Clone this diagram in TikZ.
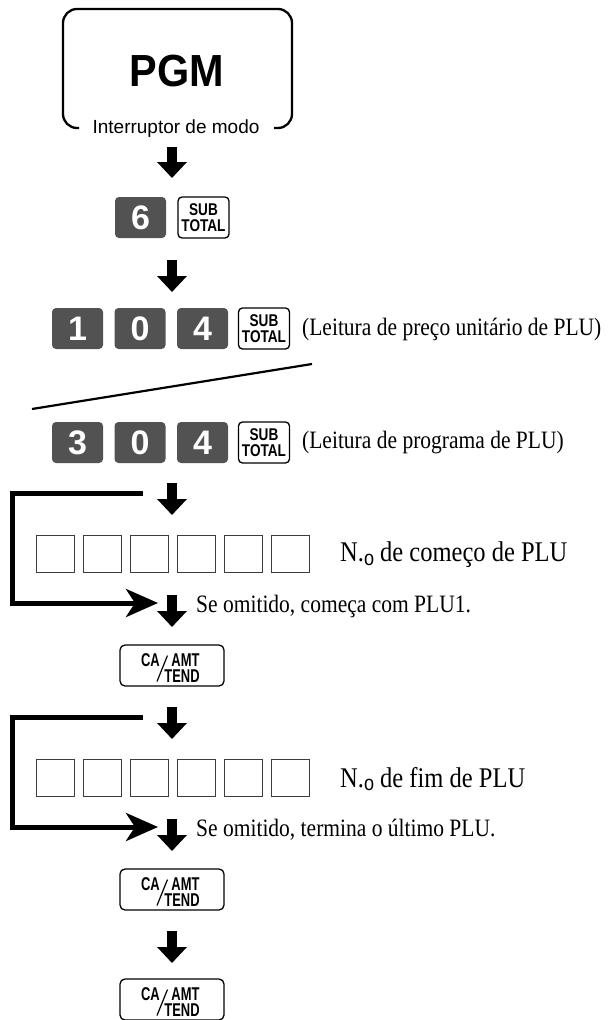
\documentclass[tikz,border=0pt]{standalone}
\usepackage{fontspec}
\setmainfont{Liberation Serif}
\setsansfont{Liberation Sans}
\usepackage{graphicx}
\usetikzlibrary{arrows.meta, calc}
\definecolor{keygray}{RGB}{82,82,82}
\definecolor{boxgray}{RGB}{60,60,60}
\newcommand{\narrowtext}[1]{\scalebox{0.8}[1]{#1}}
\newcommand{\slimtext}[1]{\scalebox{0.7}[1]{#1}}
\newcommand{\notetext}[1]{\scalebox{0.86}[1]{#1}}
\newcommand{\numo}{N.\raisebox{-3.5pt}{\sffamily\fontsize{21}{21}\selectfont o}}

\tikzset{
  numkey/.style={rectangle, rounded corners=4pt, fill=keygray, text=white, minimum width=51pt, minimum height=41pt, inner sep=0pt, font=\sffamily\bfseries\fontsize{34}{34}\selectfont},
  funckey/.style={rectangle, rounded corners=4pt, draw, line width=1.3pt, minimum width=51pt, minimum height=41pt, inner sep=0pt, align=center, font=\sffamily\bfseries\fontsize{17}{16.5}\selectfont},
  cakeybox/.style={rectangle, rounded corners=5pt, draw, line width=1.3pt, minimum width=104pt, minimum height=41pt, inner sep=0pt},
  keylbl/.style={inner sep=0pt, font=\sffamily\bfseries\fontsize{18.5}{18.5}\selectfont},
  digitbox/.style={rectangle, draw=boxgray, line width=0.9pt, minimum width=38pt, minimum height=37pt, inner sep=0pt},
  note/.style={anchor=west, inner sep=0pt, font=\fontsize{25}{28}\selectfont},
  bignote/.style={anchor=west, inner sep=0pt, font=\fontsize{28.5}{32}\selectfont},
  downarr/.style={line width=10pt, -{Triangle[length=16pt, width=29pt]}},
  loopline/.style={line width=5pt, -{Stealth[length=32pt, width=28pt, inset=9pt]}},
}

% CA/AMT TEND key: box plus its label parts
\newcommand{\cakey}[2]{%
  \node[cakeybox] (#1) at (172,#2) {};
  \node[keylbl] (#1ca) at ($(#1)+(-21.5,-5.5)$) {\slimtext{CA}};
  \node[keylbl] (#1amt) at ($(#1)+(13.5,-5.5)$) {\slimtext{AMT}};
  \node[keylbl] (#1tend) at ($(#1)+(10,11)$) {\slimtext{TEND}};
  \draw[line width=1.2pt] ($(#1)+(-4.5,-10)$) -- ($(#1)+(-15,16)$);
}

\begin{document}
\begin{tikzpicture}[x=1pt, y=-1pt]
  \useasboundingbox (0,0) rectangle (610,1020);

  % Mode switch
  \draw[line width=2.3pt, rounded corners=14pt] (79,128) -- (63,128) -- (63,9) -- (292,9) -- (292,128) -- (274,128);
  \node[font=\sffamily\bfseries\fontsize{45}{45}\selectfont] (pgm) at (177,71) {\scalebox{0.92}[1]{PGM}};
  \node[font=\sffamily\fontsize{19}{19}\selectfont, inner sep=0pt] (modesw) at (176,129) {Interruptor de modo};

  \coordinate (a1top) at (172,147);
  \coordinate (a1tip) at (172,178);
  \draw[downarr] (a1top) -- (a1tip);

  % 6 SUBTOTAL
  \node[numkey] (keysix) at (140.5,217.5) {6};
  \node[funckey] (subsix) at (203.5,217.5) {\narrowtext{SUB}\\\narrowtext{TOTAL}};

  \coordinate (a2top) at (172,260);
  \coordinate (a2tip) at (172,292);
  \draw[downarr] (a2top) -- (a2tip);

  % 1 0 4 SUBTOTAL (unit price)
  \node[numkey] (keyone) at (77.5,328.5) {1};
  \node[numkey] (keyzeroa) at (140,328.5) {0};
  \node[numkey] (keyfoura) at (202.5,328.5) {4};
  \node[funckey] (subprice) at (264,328.5) {\narrowtext{SUB}\\\narrowtext{TOTAL}};
  \node[note] (noteprice) at (302,329) {\notetext{(Leitura de preço unitário de PLU)}};

  % separator
  \coordinate (cuta) at (32,409);
  \coordinate (cutb) at (312,364);
  \draw[line width=2.2pt] (cuta) -- (cutb);

  % 3 0 4 SUBTOTAL (program)
  \node[numkey] (keythree) at (77.5,442.5) {3};
  \node[numkey] (keyzerob) at (140,442.5) {0};
  \node[numkey] (keyfourb) at (202.5,442.5) {4};
  \node[funckey] (subprog) at (264,442.5) {\narrowtext{SUB}\\\narrowtext{TOTAL}};
  \node[note] (noteprog) at (302,443) {\notetext{(Leitura de programa de PLU)}};

  % start PLU
  \coordinate (b1a) at (143,493);
  \coordinate (b1b) at (12.5,493);
  \coordinate (b1c) at (12.5,603);
  \coordinate (b1d) at (158,603);
  \draw[loopline] (b1a) -- (b1b) -- (b1c) -- (b1d);
  \coordinate (a3top) at (172,483);
  \coordinate (a3tip) at (172,515);
  \draw[downarr] (a3top) -- (a3tip);
  \node[digitbox] (st1) at (55,553.5) {};
  \node[digitbox] (st2) at (102,553.5) {};
  \node[digitbox] (st3) at (149,553.5) {};
  \node[digitbox] (st4) at (196,553.5) {};
  \node[digitbox] (st5) at (243,553.5) {};
  \node[digitbox] (st6) at (290,553.5) {};
  \node[bignote] (notestart) at (340,555) {\notetext{\numo{} de começo de PLU}};
  \coordinate (a4top) at (172,595);
  \coordinate (a4tip) at (172,627);
  \draw[downarr] (a4top) -- (a4tip);
  \node[note] (skipstart) at (196,606) {\notetext{Se omitido, começa com PLU1.}};

  \cakey{cakeya}{665.5}

  % end PLU
  \coordinate (b2a) at (143,717);
  \coordinate (b2b) at (12.5,717);
  \coordinate (b2c) at (12.5,827);
  \coordinate (b2d) at (158,827);
  \draw[loopline] (b2a) -- (b2b) -- (b2c) -- (b2d);
  \coordinate (a5top) at (172,707);
  \coordinate (a5tip) at (172,739);
  \draw[downarr] (a5top) -- (a5tip);
  \node[digitbox] (en1) at (55,777.5) {};
  \node[digitbox] (en2) at (102,777.5) {};
  \node[digitbox] (en3) at (149,777.5) {};
  \node[digitbox] (en4) at (196,777.5) {};
  \node[digitbox] (en5) at (243,777.5) {};
  \node[digitbox] (en6) at (290,777.5) {};
  \node[bignote] (noteend) at (340,779) {\notetext{\numo{} de fim de PLU}};
  \coordinate (a6top) at (172,819);
  \coordinate (a6tip) at (172,851);
  \draw[downarr] (a6top) -- (a6tip);
  \node[note] (skipend) at (196,830) {\notetext{Se omitido, termina o último PLU.}};

  \cakey{cakeyb}{889.5}

  \coordinate (a7top) at (172,931);
  \coordinate (a7tip) at (172,963);
  \draw[downarr] (a7top) -- (a7tip);

  \cakey{cakeyc}{999.5}
\end{tikzpicture}
\end{document}
